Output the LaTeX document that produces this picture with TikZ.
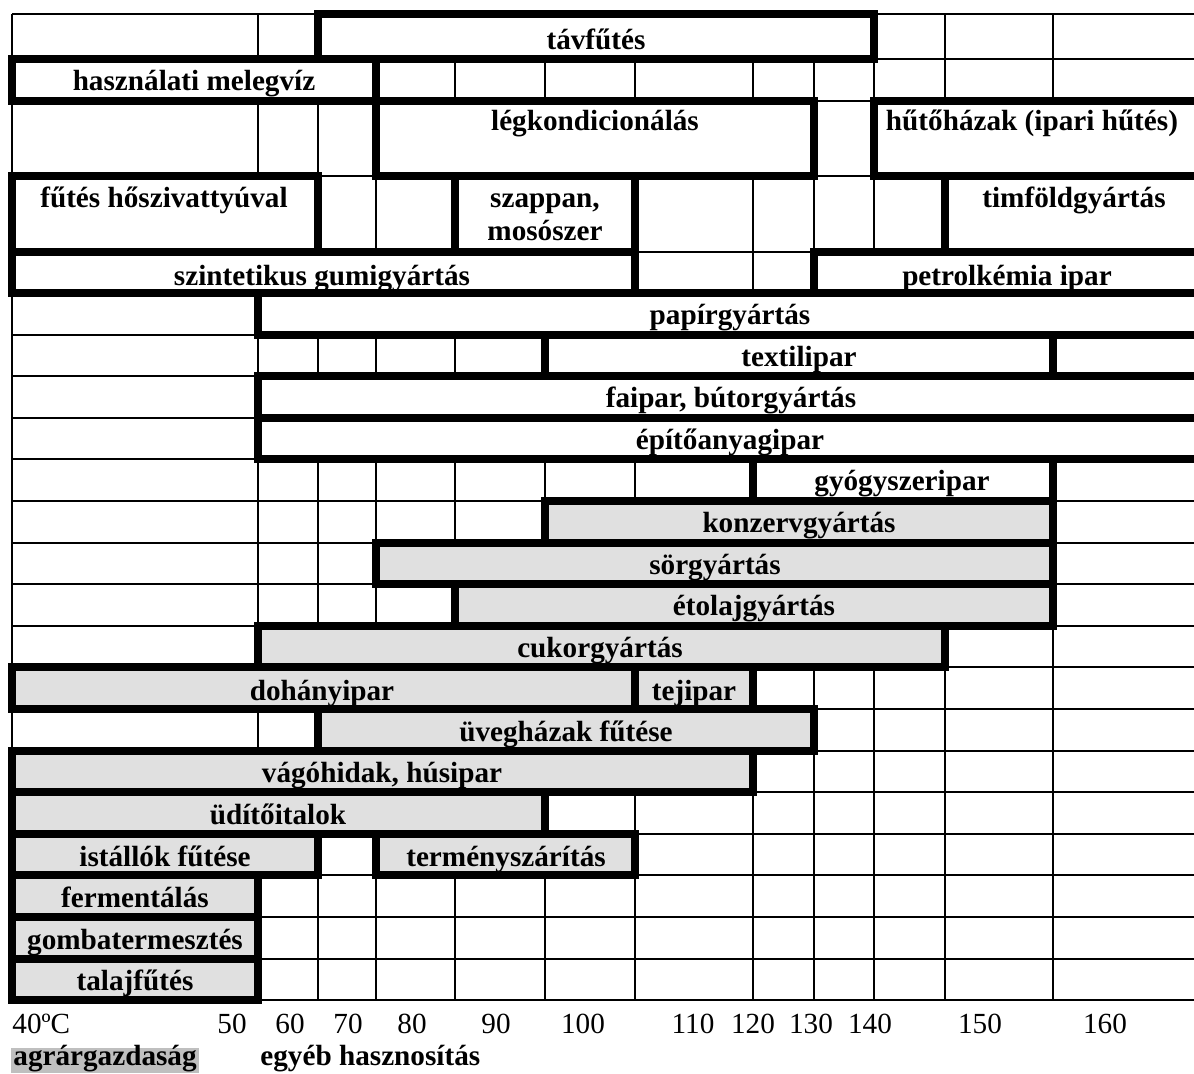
\documentclass[tikz,border=0pt]{standalone}
\usepackage{fontspec}
\setmainfont{Liberation Serif}[BoldFont={Liberation Serif Bold}]
\definecolor{barfill}{gray}{0.88}
\definecolor{agrofill}{gray}{0.75}
\tikzset{
  gridline/.style={line width=1.2pt},
  bar/.style={line width=4pt, fill=white},
  graybar/.style={bar, fill=barfill},
  bartext/.style={font=\fontsize{14.6}{16.5}\selectfont\bfseries, inner sep=0pt, anchor=base},
  scaletext/.style={font=\fontsize{14.6}{16.5}\selectfont, inner sep=0pt, anchor=base},
}
\begin{document}
\begin{tikzpicture}[x=0.5pt,y=-0.5pt]
        \useasboundingbox (0,0) rectangle (1194,1073);
        \clip (0,0) rectangle (1194,1073);

        % Draw the thin grid of the table
        \foreach \y in {14,59,101,176,252,293,335,376,418,459,501,543,584,626,667,709,751,792,834,875,917,959,1000}
            \draw[gridline] (12,\y) -- (1200,\y);
        \foreach \x in {12,258,318,376,455,545,635,753,814,874,945,1053}
            \draw[gridline] (\x,14) -- (\x,1000);

        % Draw the upper bars (white)
        \draw[bar] (318,14) rectangle (874,59);
        \node[bartext] (tavfutes) at (596,49) {távfűtés};
        \draw[bar] (12,59) rectangle (376,101);
        \node[bartext] (melegviz) at (194,90) {használati melegvíz};
        \draw[bar] (376,101) rectangle (814,176);
        \node[bartext] (legkond) at (595,130) {légkondicionálás};
        \draw[bar] (874,101) rectangle (1200,176);
        \node[bartext] (hutohaz) at (1032,130) {hűtőházak (ipari hűtés)};
        \draw[bar] (12,176) rectangle (318,252);
        \node[bartext] (hoszivattyu) at (164,207) {fűtés hőszivattyúval};
        \draw[bar] (455,176) rectangle (635,252);
        \node[bartext, align=center, anchor=north] (szappan) at (545,193) {szappan,\\mosószer};
        \draw[bar] (945,176) rectangle (1200,252);
        \node[bartext] (timfold) at (1074,207) {timföldgyártás};
        \draw[bar] (12,252) rectangle (635,293);
        \node[bartext] (gumi) at (322,285) {szintetikus gumigyártás};
        \draw[bar] (814,252) rectangle (1200,293);
        \node[bartext] (petrolkemia) at (1007,285) {petrolkémia ipar};
        \draw[bar] (258,293) rectangle (1200,335);
        \node[bartext] (papir) at (730,324) {papírgyártás};
        \draw[bar] (545,335) rectangle (1053,376);
        \node[bartext] (textil) at (799,366) {textilipar};
        \draw[bar] (258,376) rectangle (1200,418);
        \node[bartext] (faipar) at (731,407) {faipar, bútorgyártás};
        \draw[bar] (258,418) rectangle (1200,459);
        \node[bartext] (epitoanyag) at (730,449) {építőanyagipar};
        \draw[bar] (753,459) rectangle (1053,501);
        \node[bartext] (gyogyszer) at (902,490) {gyógyszeripar};

        % Draw the lower bars (gray)
        \draw[graybar] (545,501) rectangle (1053,543);
        \node[bartext] (konzerv) at (799,532) {konzervgyártás};
        \draw[graybar] (376,543) rectangle (1053,584);
        \node[bartext] (sor) at (715,574) {sörgyártás};
        \draw[graybar] (455,584) rectangle (1053,626);
        \node[bartext] (etolaj) at (754,615) {étolajgyártás};
        \draw[graybar] (258,626) rectangle (945,667);
        \node[bartext] (cukor) at (600,657) {cukorgyártás};
        \draw[graybar] (12,667) rectangle (635,709);
        \node[bartext] (dohany) at (322,700) {dohányipar};
        \draw[graybar] (635,667) rectangle (753,709);
        \node[bartext] (tejipar) at (694,700) {tejipar};
        \draw[graybar] (318,709) rectangle (814,751);
        \node[bartext] (uveghaz) at (566,741) {üvegházak fűtése};
        \draw[graybar] (12,751) rectangle (753,792);
        \node[bartext] (vagohid) at (382,782) {vágóhidak, húsipar};
        \draw[graybar] (12,792) rectangle (545,834);
        \node[bartext] (uditok) at (278,824) {üdítőitalok};
        \draw[graybar] (12,834) rectangle (318,875);
        \node[bartext] (istallo) at (165,866) {istállók fűtése};
        \draw[graybar] (376,834) rectangle (635,875);
        \node[bartext] (termeny) at (506,866) {terményszárítás};
        \draw[graybar] (12,875) rectangle (258,917);
        \node[bartext] (ferment) at (135,907) {fermentálás};
        \draw[graybar] (12,917) rectangle (258,959);
        \node[bartext] (gomba) at (135,949) {gombatermesztés};
        \draw[graybar] (12,959) rectangle (258,1000);
        \node[bartext] (talaj) at (135,990) {talajfűtés};

        % Temperature scale
        \node[scaletext, anchor=base west] (t40) at (12,1033) {40ºC};
        \node[scaletext] (t50) at (232,1033) {50};
        \node[scaletext] (t60) at (290,1033) {60};
        \node[scaletext] (t70) at (348,1033) {70};
        \node[scaletext] (t80) at (412,1033) {80};
        \node[scaletext] (t90) at (496,1033) {90};
        \node[scaletext] (t100) at (583,1033) {100};
        \node[scaletext] (t110) at (693,1033) {110};
        \node[scaletext] (t120) at (753,1033) {120};
        \node[scaletext] (t130) at (811,1033) {130};
        \node[scaletext] (t140) at (870,1033) {140};
        \node[scaletext] (t150) at (980,1033) {150};
        \node[scaletext] (t160) at (1105,1033) {160};

        % Legend
        \node[bartext, anchor=base west, fill=agrofill, inner xsep=1pt, text height=0.86em, text depth=0.4em] (agrar) at (11,1065) {agrárgazdaság};
        \node[bartext, anchor=base west] (egyeb) at (260,1065) {egyéb hasznosítás};
\end{tikzpicture}
\end{document}
